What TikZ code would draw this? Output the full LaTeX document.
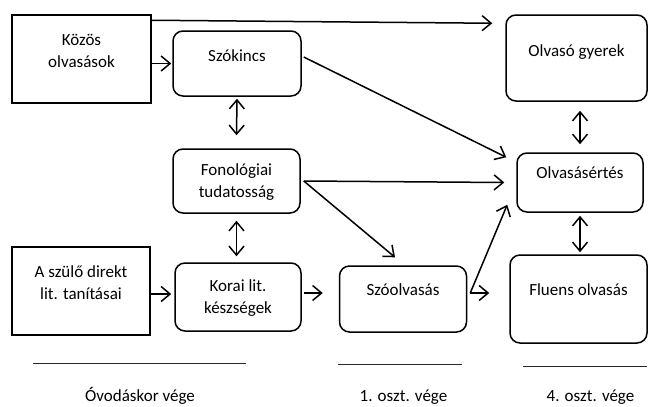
\documentclass[tikz,border=0pt]{standalone}
\usepackage{fontspec}
\setmainfont{Carlito}
\usetikzlibrary{arrows.meta}

\begin{document}
\begin{tikzpicture}[
		x=1pt, y=-1pt,
		sqbox/.style = {shape=rectangle, draw, line width=1.5pt, inner sep=0pt},
		rbox/.style = {sqbox, rounded corners=10pt},
		txt/.style = {font=\fontsize{17}{22}\selectfont, align=center, inner sep=0pt},
		arr/.style = {line width=1.5pt, -{Straight Barb[length=9pt,width=15pt]}},
		darr/.style = {line width=1.5pt,
				{Straight Barb[length=9pt,width=15pt]}-{Straight Barb[length=9pt,width=15pt]}},
		period/.style = {line width=0.8pt, black!85}
	]
	\useasboundingbox (0,0) rectangle (648,407);

	% Óvodáskor
	\node[sqbox, minimum width=139pt, minimum height=88pt,
		label={[txt, yshift=8pt, name=kozos-t]center:Közös\\olvasások}] (kozos) at (81.5,59) {};
	\node[sqbox, minimum width=138pt, minimum height=88pt,
		label={[txt, yshift=8pt, name=szulo-t]center:A szülő direkt\\lit. tanításai}] (szulo) at (81,291) {};
	\node[rbox, minimum width=128pt, minimum height=65pt,
		label={[txt, yshift=7.5pt, name=szokincs-t]center:Szókincs}] (szokincs) at (237,63.5) {};
	\node[rbox, minimum width=127pt, minimum height=64pt,
		label={[txt, yshift=-1pt, name=fonologiai-t]center:Fonológiai\\tudatosság}] (fonologiai) at (236.5,181) {};
	\node[rbox, minimum width=126pt, minimum height=68pt,
		label={[txt, yshift=-1pt, name=korai-t]center:Korai lit.\\készségek}] (korai) at (238,297) {};

	% 1. és 4. osztály
	\node[rbox, minimum width=127pt, minimum height=66pt,
		label={[txt, yshift=9pt, name=szoolvasas-t]center:Szóolvasás}] (szoolvasas) at (403,299) {};
	\node[rbox, minimum width=141pt, minimum height=86pt,
		label={[txt, yshift=6pt, name=olvaso-t]center:Olvasó gyerek}] (olvaso) at (576.5,58) {};
	\node[rbox, minimum width=126pt, minimum height=59pt,
		label={[txt, yshift=9.5pt, name=olvasasertes-t]center:Olvasásértés}] (olvasasertes) at (580,182.5) {};
	\node[rbox, minimum width=137pt, minimum height=88pt,
		label={[txt, yshift=9pt, name=fluens-t]center:Fluens olvasás}] (fluens) at (578.5,299) {};

	% nyilak
	\draw[arr] (kozos.east |- szokincs.west) -- ([xshift=-1pt]szokincs.west);
	\draw[arr] ([yshift=-6pt]kozos.north east) -- ([xshift=-13pt,yshift=-9pt]olvaso.north west);
	\draw[arr] ([xshift=2pt,yshift=6.5pt]szokincs.east) -- ([xshift=-10pt,yshift=-5pt]olvasasertes.north west);
	\draw[arr] ([xshift=3pt]fonologiai.east) -- ([xshift=-12pt]olvasasertes.west);
	\draw[arr] ([xshift=3pt]fonologiai.east) -- ([xshift=-8pt,yshift=8pt]szoolvasas.north);
	\draw[arr] ([yshift=-3pt]szulo.east) -- ([xshift=-3pt,yshift=3pt]korai.west);
	\draw[arr] ([xshift=2pt,yshift=4pt]korai.east) -- ([xshift=-16pt,yshift=6pt]szoolvasas.west);
	\draw[arr] ([xshift=3pt,yshift=6pt]szoolvasas.east) -- ([xshift=-9pt,yshift=8pt]olvasasertes.south west);
	\draw[arr] ([xshift=3pt,yshift=6pt]szoolvasas.east) -- ([xshift=-20pt,yshift=6pt]fluens.west);

	\draw[darr] ([yshift=-2pt]szokincs.south) -- ([yshift=13pt]fonologiai.north);
	\draw[darr] ([yshift=-7pt]fonologiai.south) -- ([yshift=6pt]fonologiai.south |- korai.north);
	\draw[darr] ([yshift=-9pt]olvasasertes.north |- olvaso.south) -- ([yshift=8pt]olvasasertes.north);
	\draw[darr] ([yshift=-3pt]olvasasertes.south) -- ([yshift=2pt]olvasasertes.south |- fluens.north);

	% idővonal
	\coordinate (ovoda-a) at (33,363);
	\coordinate (ovoda-b) at (246,363);
	\coordinate (elso-a) at (338,364);
	\coordinate (elso-b) at (462,364);
	\coordinate (negy-a) at (523,366);
	\coordinate (negy-b) at (647,366);
	\draw[period] (ovoda-a) -- (ovoda-b);
	\draw[period] (elso-a) -- (elso-b);
	\draw[period] (negy-a) -- (negy-b);
	\node[txt] (ovoda) at (140,396) {Óvodáskor vége};
	\node[txt] (elso) at (403.5,397) {1. oszt. vége};
	\node[txt] (negyedik) at (590.5,397) {4. oszt. vége};
\end{tikzpicture}
\end{document}
